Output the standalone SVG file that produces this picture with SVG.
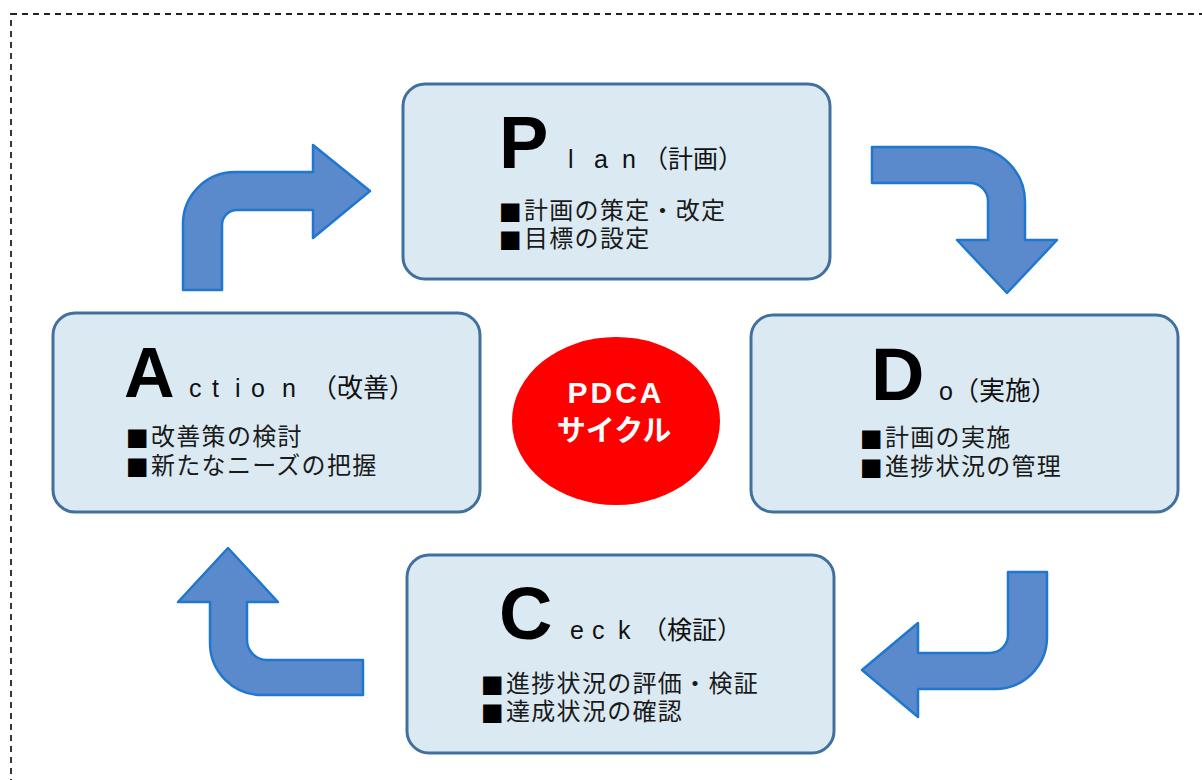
<svg xmlns="http://www.w3.org/2000/svg" width="1202" height="780" viewBox="0 0 1202 780">
<style>
.box{fill:#dbeaf2;stroke:#41709f;stroke-width:3}
.arrow{fill:#5a8acb;stroke:#1f77d0;stroke-width:2.5;stroke-linejoin:round}
.big{font-family:"Liberation Sans",Arial,sans-serif;font-weight:bold;fill:#000}
.lat{font-family:"Liberation Sans",Arial,sans-serif;font-size:25px;fill:#111}
.jp{font-family:"Noto Sans CJK JP",sans-serif;fill:#111}
.body{font-family:"Liberation Sans","Noto Sans CJK JP",sans-serif;font-size:24px;letter-spacing:1.3px;fill:#1a1a1a}
.sq{font-family:"DejaVu Sans",sans-serif;fill:#000;letter-spacing:0}
.ctr{font-weight:bold;fill:#fff;text-anchor:middle}
</style>
<rect x="11" y="14" width="1230" height="800" fill="none" stroke="#222" stroke-width="1.8" stroke-dasharray="6 5"/>
<g id="connectors">
<path class="arrow" d="M183,290 L183,225 A52,52 0 0 1 235,172 L313,172 L313,145 L370,191 L313,238 L313,210 L237,210 A15,15 0 0 0 222,225 L222,290 Z"/>
<path class="arrow" d="M872,147 L970,147 A55,55 0 0 1 1025,202 L1025,240 L1057,240 L1007,293 L957,240 L988,240 L988,201 A18,18 0 0 0 970,183 L872,183 Z"/>
<path class="arrow" d="M1008,572 L1047,572 L1047,637 A52,52 0 0 1 995,689 L918,689 L918,717 L862,670 L918,623 L918,653 L990,653 A18,18 0 0 0 1008,635 Z"/>
<path class="arrow" d="M363,660 L267,660 A20,20 0 0 1 247,640 L247,602 L278,602 L228,548 L178,602 L210,602 L210,643 A52,52 0 0 0 262,695 L363,695 Z"/>
</g>
<g id="plan">
<rect class="box" x="403" y="84" width="427" height="195" rx="22"/>
<text y="168"><tspan class="big" x="499" font-size="74">P</tspan><tspan class="lat" x="568">l</tspan><tspan class="lat" x="594">a</tspan><tspan class="lat" x="622">n</tspan><tspan class="jp" x="643" font-size="25">（計画）</tspan></text>
<text class="body" x="499" y="219"><tspan class="sq">■</tspan><tspan x="524">計画の策定・改定</tspan></text>
<text class="body" x="499" y="247"><tspan class="sq">■</tspan><tspan x="524">目標の設定</tspan></text>
</g>
<g id="action">
<rect class="box" x="53" y="313" width="427" height="199" rx="22"/>
<text y="397"><tspan class="big" x="124" font-size="70">A</tspan><tspan class="lat" x="189">c</tspan><tspan class="lat" x="212">t</tspan><tspan class="lat" x="235">i</tspan><tspan class="lat" x="251">o</tspan><tspan class="lat" x="282">n</tspan><tspan class="jp" x="311" font-size="26">（改善）</tspan></text>
<text class="body" x="126" y="445"><tspan class="sq">■</tspan><tspan x="151">改善策の検討</tspan></text>
<text class="body" x="126" y="474"><tspan class="sq">■</tspan><tspan x="151">新たなニーズの把握</tspan></text>
</g>
<g id="do">
<rect class="box" x="751" y="315" width="427" height="197" rx="22"/>
<text y="400"><tspan class="big" x="871" font-size="74">D</tspan><tspan class="lat" x="939">o</tspan><tspan class="jp" x="953" font-size="26">（実施）</tspan></text>
<text class="body" x="860" y="446"><tspan class="sq">■</tspan><tspan x="885">計画の実施</tspan></text>
<text class="body" x="860" y="475"><tspan class="sq">■</tspan><tspan x="885">進捗状況の管理</tspan></text>
</g>
<g id="check">
<rect class="box" x="407" y="555" width="427" height="198" rx="22"/>
<text y="639"><tspan class="big" x="499" font-size="74">C</tspan><tspan class="lat" x="570">e</tspan><tspan class="lat" x="592">c</tspan><tspan class="lat" x="618">k</tspan><tspan class="jp" x="642" font-size="25">（検証）</tspan></text>
<text class="body" x="481" y="692"><tspan class="sq">■</tspan><tspan x="506">進捗状況の評価・検証</tspan></text>
<text class="body" x="481" y="720"><tspan class="sq">■</tspan><tspan x="506">達成状況の確認</tspan></text>
</g>
<g id="center">
<ellipse cx="616" cy="421" rx="104" ry="84" fill="#ff0000"/>
<text class="ctr" x="616" y="403" font-family="Liberation Sans,Arial,sans-serif" font-size="30" letter-spacing="3">PDCA</text>
<text class="ctr" x="614" y="441" font-family="Noto Sans CJK JP,sans-serif" font-size="29">サイクル</text>
</g>
</svg>
